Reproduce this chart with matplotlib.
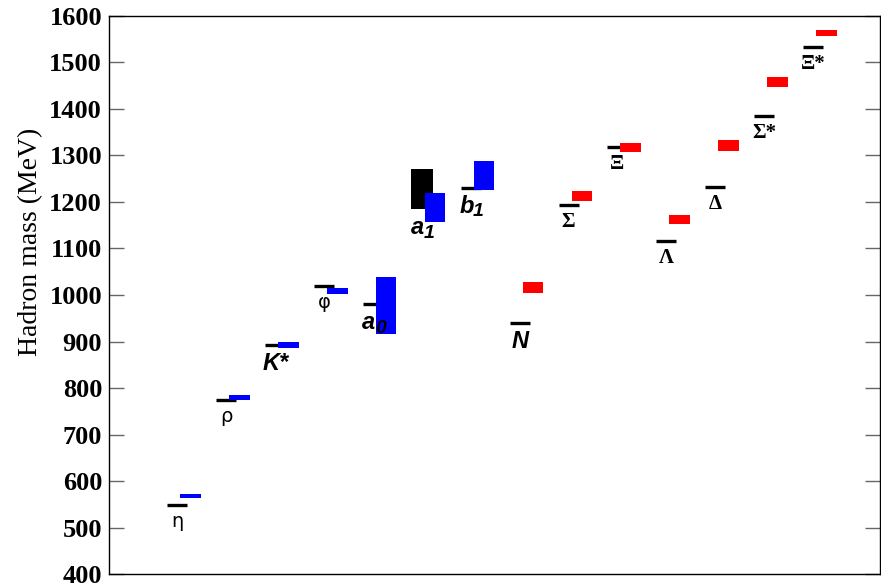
import matplotlib
matplotlib.use('Agg')
import matplotlib.pyplot as plt
import numpy as np

# hadrons, left to right
names = ['eta', 'rho', 'Kstar', 'phi', 'a0', 'a1', 'b1',
         'N', 'Sigma', 'Xi', 'Lambda', 'Delta', 'Sigmastar', 'Xistar']
labels = ['η', 'ρ', 'K*', 'φ', 'a', 'a', 'b',
          'N', 'Σ', 'Ξ', 'Λ', 'Δ', 'Σ*', 'Ξ*']
subs = ['', '', '', '', '0', '1', '1', '', '', '', '', '', '', '']
label_style = ['sans', 'sans', 'bfit', 'sans', 'bfit', 'bfit', 'bfit',
               'bfit', 'serif', 'serif', 'serif', 'serif', 'serif', 'serif']

# experiment (black): mass and half width of the band (0 = line)
exp_mass = [548, 775, 892, 1019, 980, 1227, 1230,
            939, 1193, 1318, 1116, 1232, 1385, 1533]
exp_err = [0, 0, 0, 0, 0, 43, 0, 0, 0, 0, 0, 0, 0, 0]

# lattice (mesons blue, baryons red): mass and error
lat_mass = [568, 780, 893, 1009, 978, 1188, 1257,
            1017, 1213, 1317, 1163, 1322, 1458, 1564]
lat_err = [5, 6, 7, 7, 61, 31, 31, 12, 11, 9, 10, 12, 10, 6]
n_mesons = 7

x = np.arange(len(names))
w = 0.41
off = 0.27

fig = plt.figure(figsize=(8.81, 5.88), dpi=100)
ax = fig.add_axes([0.1237, 0.0238, 0.8752, 0.949])

for i in x:
    col = 'blue' if i < n_mesons else 'red'
    ax.bar(x[i] + off, 2 * lat_err[i], bottom=lat_mass[i] - lat_err[i],
           width=0.42, color=col, edgecolor='none', zorder=2)
    if exp_err[i] > 0:
        ax.bar(x[i], 2 * exp_err[i], bottom=exp_mass[i] - exp_err[i],
               width=w + 0.03, color='black', edgecolor='none', zorder=1)
    else:
        ax.hlines(exp_mass[i], x[i] - w / 2, x[i] + w / 2, color='black',
                  linewidth=2.4, zorder=1)

    low = exp_mass[i] - exp_err[i]
    st = label_style[i]
    if st == 'sans':
        kw = dict(family='DejaVu Sans', fontsize=14)
    elif st == 'bfit':
        kw = dict(family='Liberation Sans', fontsize=17, weight='bold', style='italic')
    else:
        kw = dict(family='Liberation Serif', fontsize=15, weight='bold')
    if subs[i]:
        ax.annotate(labels[i], xy=(x[i], low), xytext=(-3, -5),
                    textcoords='offset points', ha='center', va='top', **kw)
        kw['fontsize'] = 14
        ax.annotate(subs[i], xy=(x[i], low), xytext=(5.5, -11),
                    textcoords='offset points', ha='center', va='top', **kw)
    else:
        ax.annotate(labels[i], xy=(x[i], low), xytext=(0, -5),
                    textcoords='offset points', ha='center', va='top', **kw)

ax.set_xlim(-1.40, 14.37)
ax.set_ylim(400, 1600)
ax.set_yticks(np.arange(400, 1601, 100))
ax.set_xticks([])
ax.tick_params(axis='y', direction='in', length=11, width=1, color='#666666',
               left=True, right=True, labelsize=19, pad=5)
for lab in ax.get_yticklabels():
    lab.set_family('Liberation Serif')
    lab.set_weight('bold')
for s in ax.spines.values():
    s.set_linewidth(1.0)
ax.set_ylabel('Hadron mass (MeV)', family='Liberation Serif', fontsize=20, labelpad=2)
ax.yaxis.set_label_coords(-0.086, 0.595)

fig.savefig('out.png', dpi=100)
